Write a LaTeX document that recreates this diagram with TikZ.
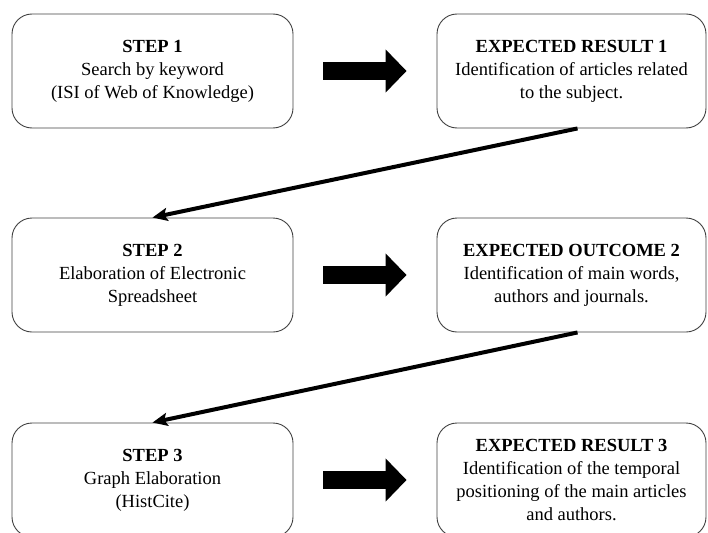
\documentclass[tikz,border=0pt]{standalone}
\usepackage{fontspec}
\setmainfont{Liberation Serif}
\usetikzlibrary{arrows.meta}

\tikzset{
  box/.style={draw=black!75, line width=0.9pt, rounded corners=20pt, align=center,
    font=\fontsize{18.5}{23}\selectfont, minimum height=114pt},
  bigarrow/.style={line width=18pt, -{Triangle[length=21pt,width=42pt]}},
  link/.style={line width=4pt, -{Stealth[length=15pt,width=13pt,inset=3pt]}}
}

\begin{document}
\begin{tikzpicture}[x=1pt,y=-1pt]
\useasboundingbox (0,0) rectangle (708,532);

% Steps
\foreach \n/\y/\l in {1/71/{Search by keyword\\(ISI of Web of Knowledge)},
  2/275/{Elaboration of Electronic\\Spreadsheet},
  3/480/{Graph Elaboration\\(HistCite)}}
  \node[box,minimum width=281pt] (s\n) at (152.5,\y) {\textbf{STEP \n}\\\l};

% Expected results
\foreach \n/\y/\h/\l in {1/71/{EXPECTED RESULT 1}/{Identification of articles related\\to the subject.},
  2/275/{EXPECTED OUTCOME 2}/{Identification of main words,\\authors and journals.},
  3/480/{EXPECTED RESULT 3}/{Identification of the temporal\\positioning of the main articles\\and authors.}}
  \node[box,minimum width=269pt] (r\n) at (571.5,\y) {\textbf{\h}\\\l};

% Block arrows
\foreach \n in {1,2,3}
  \draw[bigarrow] ([xshift=30pt]s\n.east) -- ([xshift=-30pt]r\n.west);

% Links to next step
\draw[link] ([xshift=6pt]r1.south) -- (s2.north);
\draw[link] ([xshift=6pt]r2.south) -- (s3.north);
\end{tikzpicture}
\end{document}
